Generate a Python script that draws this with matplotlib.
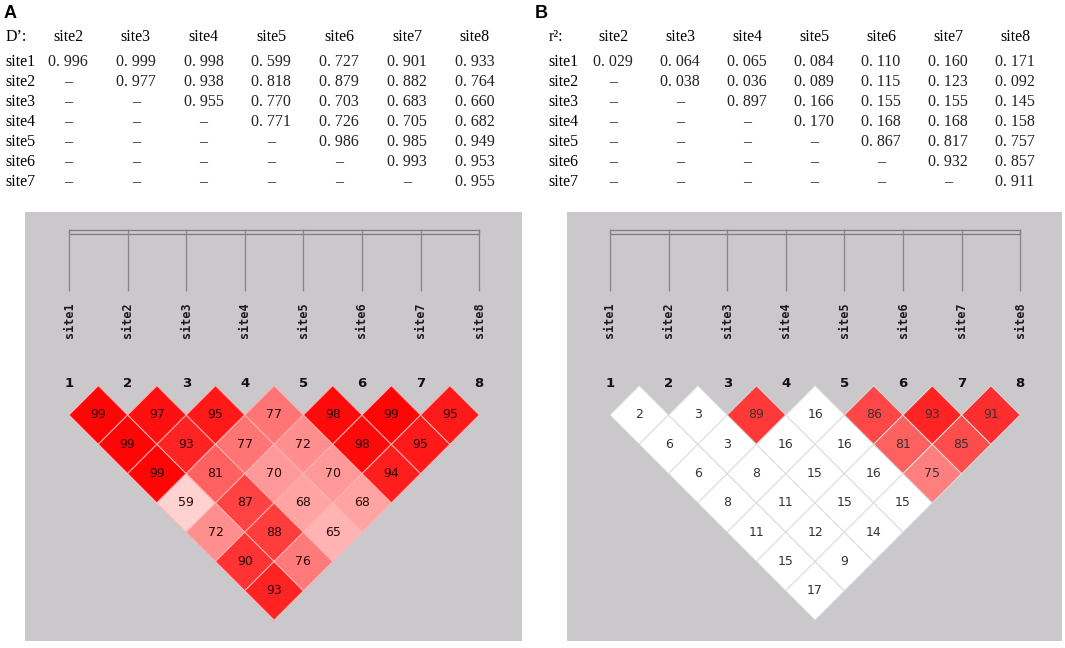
import matplotlib.pyplot as plt
from matplotlib.patches import Polygon, Rectangle
from matplotlib.colors import LinearSegmentedColormap, Normalize

W, H = 1065, 648

sites = ["site1", "site2", "site3", "site4", "site5", "site6", "site7", "site8"]

# pairwise tables, row i holds values for site i vs sites i+1..8
dprime_table = [
    [0.996, 0.999, 0.998, 0.599, 0.727, 0.901, 0.933],
    [0.977, 0.938, 0.818, 0.879, 0.882, 0.764],
    [0.955, 0.770, 0.703, 0.683, 0.660],
    [0.771, 0.726, 0.705, 0.682],
    [0.986, 0.985, 0.949],
    [0.993, 0.953],
    [0.955],
]
rsq_table = [
    [0.029, 0.064, 0.065, 0.084, 0.110, 0.160, 0.171],
    [0.038, 0.036, 0.089, 0.115, 0.123, 0.092],
    [0.897, 0.166, 0.155, 0.155, 0.145],
    [0.170, 0.168, 0.168, 0.158],
    [0.867, 0.817, 0.757],
    [0.932, 0.857],
    [0.911],
]

# numbers printed in the LD plots (percent)
dprime_ld = [
    [99, 99, 99, 59, 72, 90, 93],
    [97, 93, 81, 87, 88, 76],
    [95, 77, 70, 68, 65],
    [77, 72, 70, 68],
    [98, 98, 94],
    [99, 95],
    [95],
]
rsq_ld = [
    [2, 6, 6, 8, 11, 15, 17],
    [3, 3, 8, 11, 12, 9],
    [89, 16, 15, 15, 14],
    [16, 16, 16, 15],
    [86, 81, 75],
    [93, 85],
    [91],
]

BG = "#cac8cb"
SERIF = "Liberation Serif"
cmap = LinearSegmentedColormap.from_list("ld", ["#ffffff", "#ff0000"])
norm = Normalize(vmin=50, vmax=100, clip=True)

fig = plt.figure(figsize=(W / 100, H / 100), dpi=100)


def ftext(x, y, s, **kw):
    fig.text(x / W, 1 - y / H, s, **kw)


def draw_table(x0, col0, dcol, head, table):
    ftext(x0 + 1, 37, head, ha="left", va="center", fontfamily=SERIF, fontsize=11.5)
    for k, name in enumerate(sites[1:]):
        ftext(col0 + k * dcol, 37, name, ha="center", va="center",
              fontfamily=SERIF, fontsize=11.5)
    for i in range(7):
        y = 62 + 20 * i
        ftext(x0, y, sites[i], ha="left", va="center", fontfamily=SERIF, fontsize=11.5)
        for k in range(7):
            if k < i:
                s = "–"
            else:
                s = f"{table[i][k - i]:.3f}".replace(".", ". ")
            ftext(col0 + k * dcol, y, s, ha="center", va="center",
                  fontfamily=SERIF, fontsize=11.5, color="#222222")


def draw_ld(left, right, site1_px, values, txt_color, edge):
    sp = 58.6
    top, bot = 212, 641
    ax = fig.add_axes([left / W, 1 - bot / H, (right - left) / W, (bot - top) / H])
    ax.set_xlim(1 - (site1_px - left) / sp, 1 + (right - site1_px) / sp)
    ax.set_ylim((bot - top) / sp, 0)
    ax.set_facecolor(BG)
    ax.set_xticks([])
    ax.set_yticks([])
    for s in ax.spines.values():
        s.set_visible(False)

    pos = list(range(1, 9))
    ax.add_patch(Rectangle((1, 0.307), 7, 0.068, fill=False, ec="#7c7c7c", lw=0.9))
    ax.vlines(pos, 0.29, 1.35, color="#858585", lw=0.9)
    for p, name in zip(pos, sites):
        ax.text(p, 1.84, name, rotation=90, ha="center", va="center",
                fontfamily="DejaVu Sans Mono", fontweight="bold", fontsize=8.5,
                color="#1a1a1a")
        ax.text(p, 2.93, str(p), ha="center", va="center", fontsize=9.5,
                fontweight="bold", color="#111111")

    y1 = 3.464
    for i, row in enumerate(values):
        for k, v in enumerate(row):
            a, b = i + 1, i + 2 + k
            cx = (a + b) / 2
            cy = y1 + (b - a - 1) * 0.5
            verts = [(cx - 0.5, cy), (cx, cy - 0.5), (cx + 0.5, cy), (cx, cy + 0.5)]
            ax.add_patch(Polygon(verts, closed=True, fc=cmap(norm(v)),
                                 ec=edge, lw=0.7))
            ax.text(cx, cy, str(v), ha="center", va="center", fontsize=9,
                    color=txt_color)
    return ax


fig.text(4 / W, 1 - 13 / H, "A", fontfamily="Liberation Sans", fontweight="bold",
         fontsize=13, va="center", ha="left")
fig.text(535 / W, 1 - 13 / H, "B", fontfamily="Liberation Sans", fontweight="bold",
         fontsize=13, va="center", ha="left")

draw_table(5, 68, 67.8, "D’:", dprime_table)
draw_table(548, 613, 67.0, "r²:", rsq_table)

draw_ld(25, 522, 69, dprime_ld, "#2a0505", "#ffb4b4")
draw_ld(567, 1062, 610, rsq_ld, "#333333", "#dcdcdc")

fig.savefig("out.png", dpi=100)
